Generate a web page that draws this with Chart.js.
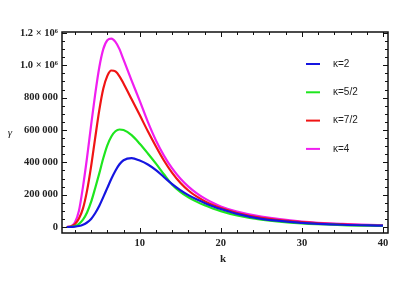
<!DOCTYPE html>
<html>
<head>
<meta charset="utf-8">
<script src="https://cdn.jsdelivr.net/npm/chart.js@4.4.1/dist/chart.umd.min.js"></script>
<style>
  html, body { margin: 0; padding: 0; background: #fff; }
  #wrap { width: 400px; height: 300px; }
</style>
</head>
<body>
<div id="wrap"><canvas id="myChart" width="400" height="300"></canvas></div>
<script>
const kValues = [1, 1.5, 2, 2.5, 3, 3.5, 4, 4.5, 5, 5.5, 6, 6.5, 7, 7.5, 8, 9, 10, 11, 12, 13, 14, 15, 16, 17, 18, 19, 20, 22, 25, 30, 35, 40];

// gamma values, in thousands
const kappa2  = [0, 0, 2, 6, 14, 28, 50, 85, 130, 185, 242, 298, 348, 388, 413, 426, 411, 387, 352, 308, 265, 228, 197, 171, 149, 129, 111, 81, 50, 26, 14, 8];
const kappa52 = [0, 1, 6, 20, 46, 90, 155, 240, 330, 425, 505, 560, 592, 603, 600, 568, 515, 455, 392, 325, 262, 218, 184, 157, 134, 115, 98, 71, 45, 22, 12, 7];
const kappa72 = [0, 3, 17, 52, 115, 225, 375, 550, 720, 855, 935, 968, 962, 932, 888, 790, 692, 592, 498, 410, 335, 274, 226, 189, 160, 136, 117, 87, 57, 30, 16, 9];
const kappa4  = [0, 4, 28, 100, 250, 430, 630, 820, 985, 1100, 1155, 1165, 1145, 1100, 1035, 905, 780, 650, 535, 440, 362, 300, 250, 210, 177, 150, 127, 95, 64, 34, 19, 11];

const seriesNames = ['\u03BA=2', '\u03BA=5/2', '\u03BA=7/2', '\u03BA=4'];
const seriesColors = ['#1515e0', '#1ee61e', '#f01414', '#f01ef0'];

const xTicks = [10, 20, 30, 40];
const yTicks = [0, 200000, 400000, 600000, 800000, 1000000, 1200000];
const yTickLabels = ['0', '200 000', '400 000', '600 000', '800 000', '1.0 \u00D7 10\u2076', '1.2 \u00D7 10\u2076'];

const labelFont = { family: 'Liberation Serif', size: 10.5, weight: 'bold' };
const textColor = '#222';

function toPoints(vals) {
    return kValues.map((k, i) => ({ x: k, y: vals[i] * 1000 }));
}

const allSeries = [kappa2, kappa52, kappa72, kappa4];
const datasets = allSeries.map((vals, i) => ({
    label: seriesNames[i],
    data: toPoints(vals),
    borderColor: seriesColors[i],
    backgroundColor: seriesColors[i],
    borderWidth: 2.2,
    pointRadius: 0,
    cubicInterpolationMode: 'monotone',
    fill: false
}));

// frame, inward ticks, axis titles and the inset legend
const framePlugin = {
    id: 'frame',
    afterDatasetsDraw(chart) {
        const ctx = chart.ctx;
        const a = chart.chartArea;
        const xs = chart.scales.x;
        const ys = chart.scales.y;
        ctx.save();
        ctx.strokeStyle = '#111';
        ctx.lineWidth = 1;
        ctx.beginPath();
        // y ticks, left and right
        for (let v = 0; v <= 1200000; v += 50000) {
            const py = Math.round(ys.getPixelForValue(v)) + 0.5;
            const len = v % 200000 === 0 ? 5 : 3;
            ctx.moveTo(a.left, py); ctx.lineTo(a.left + len, py);
            ctx.moveTo(a.right, py); ctx.lineTo(a.right - len, py);
        }
        // x ticks, bottom and top
        for (let k = 2; k <= 40; k += 2) {
            const px = Math.round(xs.getPixelForValue(k)) + 0.5;
            const len = k % 10 === 0 ? 5 : 3;
            ctx.moveTo(px, a.bottom); ctx.lineTo(px, a.bottom - len);
            ctx.moveTo(px, a.top); ctx.lineTo(px, a.top + len);
        }
        ctx.stroke();
        ctx.lineWidth = 1.5;
        ctx.strokeRect(a.left, a.top, a.right - a.left, a.bottom - a.top);

        // axis titles
        ctx.fillStyle = textColor;
        ctx.textAlign = 'center';
        ctx.textBaseline = 'middle';
        ctx.font = 'italic 11px "Liberation Serif"';
        ctx.fillText('\u03B3', 10, 133);
        ctx.font = 'bold 11px "Liberation Serif"';
        ctx.fillText('k', 223, 259);

        // legend
        ctx.textAlign = 'left';
        ctx.font = '10px "Liberation Sans"';
        chart.data.datasets.forEach((ds, i) => {
            const y = 64 + i * 28.3;
            ctx.strokeStyle = ds.borderColor;
            ctx.lineWidth = 2;
            ctx.beginPath();
            ctx.moveTo(306, y); ctx.lineTo(320, y);
            ctx.stroke();
            ctx.fillStyle = textColor;
            ctx.fillText(ds.label, 333, y);
        });
        ctx.restore();
    }
};

const ctx = document.getElementById('myChart').getContext('2d');
const myChart = new Chart(ctx, {
    type: 'line',
    data: { datasets: datasets },
    options: {
        responsive: false,
        animation: false,
        layout: { padding: { top: 32, right: 12, left: 0, bottom: 0 } },
        plugins: { legend: { display: false }, tooltip: { enabled: false } },
        scales: {
            x: {
                type: 'linear',
                min: 0.41,
                max: 40.62,
                afterBuildTicks: (scale) => { scale.ticks = xTicks.map(v => ({ value: v })); },
                afterFit: (scale) => { scale.height = 67; },
                grid: { display: false, drawTicks: false },
                border: { display: false },
                ticks: {
                    font: labelFont,
                    color: textColor,
                    padding: 4,
                    maxRotation: 0,
                    callback: (v) => String(v)
                }
            },
            y: {
                type: 'linear',
                min: -37000,
                max: 1206000,
                afterBuildTicks: (scale) => { scale.ticks = yTicks.map(v => ({ value: v })); },
                afterFit: (scale) => { scale.width = 62; },
                grid: { display: false, drawTicks: false },
                border: { display: false },
                ticks: {
                    font: labelFont,
                    color: textColor,
                    padding: 4,
                    callback: (v) => yTickLabels[yTicks.indexOf(v)]
                }
            }
        }
    },
    plugins: [framePlugin]
});
</script>
</body>
</html>
